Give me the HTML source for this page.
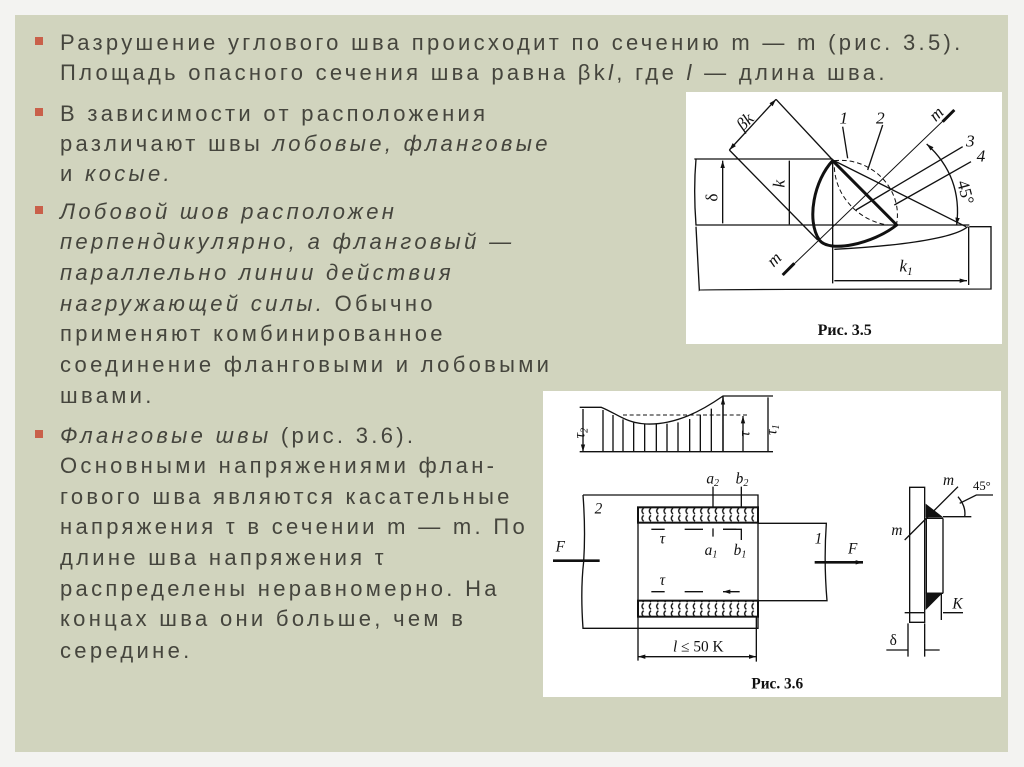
<!DOCTYPE html>
<html><head><meta charset="utf-8"><style>
html,body{margin:0;padding:0;}
body{width:1024px;height:767px;background:#f3f3f1;position:relative;overflow:hidden;font-family:"Liberation Sans","DejaVu Sans",sans-serif;}
#panel{position:absolute;left:15px;top:15px;width:993px;height:737px;background:#d1d4be;}
.l{position:absolute;left:60px;font-size:22px;letter-spacing:3.3px;color:#45453d;white-space:nowrap;line-height:24px;}
.b{position:absolute;left:35px;width:8px;height:8px;background:#c9604a;}
i{font-style:italic;}
.fig{position:absolute;background:#fff;}
svg{position:absolute;}
</style></head><body>
<div id="panel"></div>
<div class="b" style="top:37px"></div>
<div class="l" style="top:31px">Разрушение углового шва происходит по сечению m — m (рис. 3.5).</div>
<div class="l" style="top:61px">Площадь опасного сечения шва равна βk<i>l</i>, где <i>l</i> — длина шва.</div>
<div class="b" style="top:108px"></div>
<div class="l" style="top:102px">В зависимости от расположения</div>
<div class="l" style="top:132px">различают швы <i>лобовые, фланговые</i></div>
<div class="l" style="top:162px">и <i>косые.</i></div>
<div class="b" style="top:206px"></div>
<div class="l" style="top:200px"><i>Лобовой шов расположен</i></div>
<div class="l" style="top:230px"><i>перпендикулярно, а фланговый —</i></div>
<div class="l" style="top:261px"><i>параллельно линии действия</i></div>
<div class="l" style="top:292px"><i>нагружающей силы.</i> Обычно</div>
<div class="l" style="top:322px">применяют комбинированное</div>
<div class="l" style="top:353px">соединение фланговыми и лобовыми</div>
<div class="l" style="top:384px">швами.</div>
<div class="b" style="top:430px"></div>
<div class="l" style="top:424px"><i>Фланговые швы</i> (рис. 3.6).</div>
<div class="l" style="top:454px">Основными напряжениями флан-</div>
<div class="l" style="top:485px">гового шва являются касательные</div>
<div class="l" style="top:515px">напряжения τ в сечении m — m. По</div>
<div class="l" style="top:546px">длине шва напряжения τ</div>
<div class="l" style="top:577px">распределены неравномерно. На</div>
<div class="l" style="top:607px">концах шва они больше, чем в</div>
<div class="l" style="top:639px">середине.</div>

<div class="fig" style="left:686px;top:92px;width:316px;height:252px"></div>
<svg style="left:686px;top:90px" width="320" height="260" viewBox="0 0 960 780" font-family="Liberation Serif,serif" font-style="italic">
<defs>
<marker id="A" viewBox="0 0 10 10" refX="10" refY="5" markerWidth="22" markerHeight="22" orient="auto-start-reverse" markerUnits="userSpaceOnUse"><path d="M0 2L10 5L0 8z" fill="#111"/></marker></defs>
<g stroke="#111" stroke-width="4" fill="none">
<path d="M25 207H440M30 207Q22 300 30 405H850M30 410L40 600Q42 598 915 597V410H850"/>
<path d="M440 210L840 410M445 478C600 470 800 450 845 410"/>
<path d="M440 210V580M848 410V585"/>
<path d="M110 212V400M310 212V403M445 572H843" marker-start="url(#A)" marker-end="url(#A)"/>
<path d="M270 28L440 210M130 180L395 450"/>
<path d="M130 180L270 28" marker-start="url(#A)" marker-end="url(#A)"/>
<path d="M290 555L805 60" stroke-width="3"/>
<path d="M290 555L325 520M770 95L805 60" stroke-width="9"/>
<path d="M510 360L830 170M625 345L855 215M470 110L485 205M590 105L545 240"/>
<path d="M722 162Q830 260 812 405" marker-start="url(#A)" marker-end="url(#A)"/>
<path d="M445 212C560 200 650 300 632 400M445 232C450 330 530 395 605 405" stroke-dasharray="14 9" stroke-width="3"/>
<path d="M440 212C385 270 360 390 400 450C430 490 560 462 632 405Z" stroke-width="9" stroke-linejoin="round"/>
</g>
<g fill="#111" font-size="52">
<text x="145" y="110" transform="rotate(-45 175 85)">βk</text>
<text x="262" y="290" transform="rotate(-90 280 275)">k</text>
<text x="60" y="330" transform="rotate(-90 80 315)" font-style="normal">δ</text>
<text x="640" y="545">k<tspan font-size="34" dy="10">1</tspan></text>
<text x="460" y="100">1</text><text x="570" y="100">2</text>
<text x="840" y="170">3</text><text x="872" y="215">4</text>
<text x="245" y="520" transform="rotate(-45 270 505)">m</text>
<text x="730" y="80" transform="rotate(-45 760 65)">m</text>
<text x="810" y="320" transform="rotate(75 840 300)" font-style="normal">45°</text>
<text x="395" y="735" font-style="normal" font-weight="bold" font-size="48">Рис. 3.5</text>
</g>
</svg>

<div class="fig" style="left:543px;top:391px;width:458px;height:306px"></div>
<svg style="left:543px;top:390px" width="460" height="310" viewBox="0 0 1380 930" font-family="Liberation Serif,serif" font-style="italic">
<defs>
<marker id="B" viewBox="0 0 10 10" refX="10" refY="5" markerWidth="22" markerHeight="22" orient="auto-start-reverse" markerUnits="userSpaceOnUse"><path d="M0 2L10 5L0 8z" fill="#111"/></marker>
<pattern id="h" width="22" height="22" patternUnits="userSpaceOnUse"><path d="M16 2Q6 11 16 20" stroke="#111" stroke-width="4" fill="none"/></pattern>
</defs>
<g stroke="#111" stroke-width="4" fill="none">
<path d="M110 185H690M110 52H175C220 70 250 100 310 102C400 105 480 60 540 18H690M540 18V185"/>
<path d="M240 75H620" stroke-dasharray="12 8" stroke-width="3"/>
<path d="M120 185V57M675 185V22M600 185V78" marker-start="url(#B)" marker-end="url(#B)"/>
<g marker-end="url(#B)"><path d="M180 185V60M210 185V75M240 185V88M272 185V98M305 185V102M340 185V102M372 185V101M405 185V97M440 185V87M472 185V74M505 185V56M540 185V22"/></g>
<path d="M120 315H645V715H120Q112 600 122 515Q128 420 120 315"/>
<path d="M645 400H850Q842 515 852 632H645M285 350V812M640 680V815"/>
<rect x="285" y="352" width="360" height="46" fill="url(#h)" stroke-width="6"/>
<rect x="285" y="632" width="360" height="48" fill="url(#h)" stroke-width="6"/>
<path d="M510 290V352M595 290V352M510 415V440M540 418H595V450"/>
<path d="M365 418H325M480 418H425M580 418H540M365 605H325M480 605H425M590 605H540" marker-end="url(#B)"/>
<path d="M170 512H30M815 517H960" stroke-width="8" marker-end="url(#B)"/>
<path d="M285 800H640" marker-start="url(#B)" marker-end="url(#B)"/>
<path d="M1100 292H1145V697H1100ZM1150 385V610M1200 385V610M1150 385H1200M1150 610H1200"/>
<path d="M1150 345L1195 380H1150ZM1150 610L1195 610L1150 655Z" fill="#111"/>
<path d="M1085 450L1245 290M1200 380H1285M1245 320Q1270 350 1265 380M1250 340L1300 315H1350"/>
<path d="M1085 668H1145M1260 668H1200M1030 780H1095M1190 780H1145"/>
<path d="M1095 700V800M1145 700V800M1195 610V690"/>
</g>
<g fill="#111" font-size="46">
<text x="85" y="145" transform="rotate(-90 105 125)">τ<tspan font-size="30" dy="8">2</tspan></text>
<text x="590" y="140" transform="rotate(-90 605 125)">τ</text>
<text x="665" y="140" transform="rotate(-90 680 120)">τ<tspan font-size="30" dy="8">1</tspan></text>
<text x="490" y="280">a<tspan font-size="30" dy="8">2</tspan></text>
<text x="578" y="280">b<tspan font-size="30" dy="8">2</tspan></text>
<text x="485" y="495">a<tspan font-size="30" dy="8">1</tspan></text>
<text x="572" y="495">b<tspan font-size="30" dy="8">1</tspan></text>
<text x="350" y="460">τ</text><text x="350" y="585">τ</text>
<text x="155" y="370">2</text><text x="815" y="460">1</text>
<text x="38" y="485">F</text><text x="915" y="490">F</text>
<text x="1200" y="285">m</text><text x="1045" y="435">m</text>
<text x="1290" y="300" font-style="normal" font-size="38">45°</text>
<text x="1228" y="655">K</text><text x="1040" y="765" font-style="normal">δ</text>
<text x="390" y="785" font-style="normal" font-size="46"><tspan font-style="italic">l</tspan> ≤ 50 K</text>
<text x="625" y="895" font-style="normal" font-weight="bold" font-size="46">Рис. 3.6</text>
</g>
</svg>
</body></html>
